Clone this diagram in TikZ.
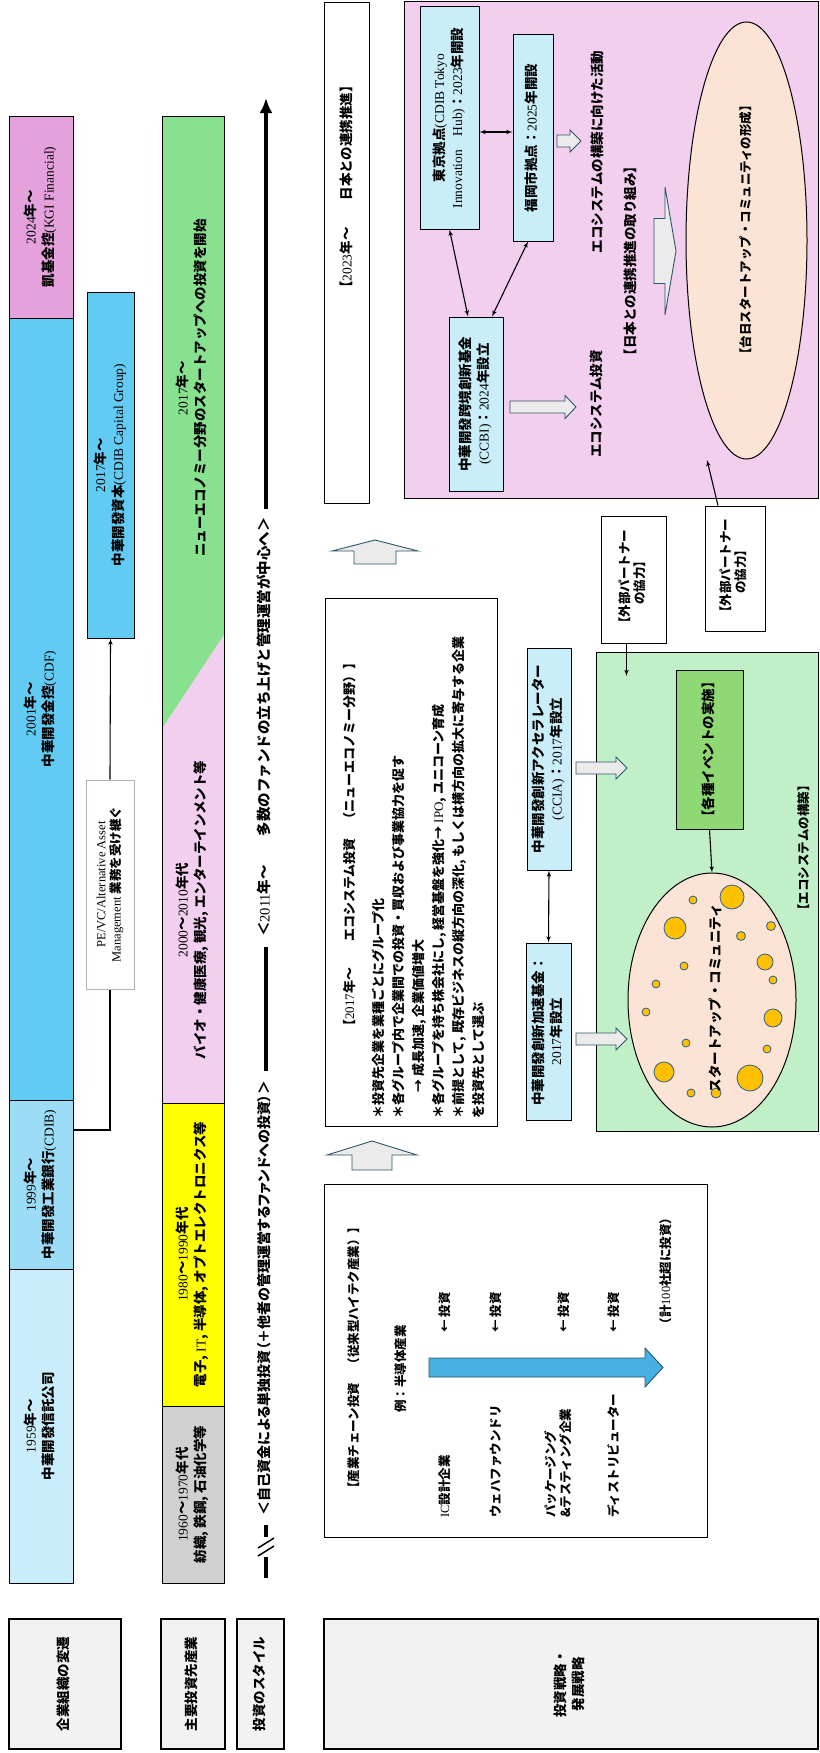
\documentclass[tikz,border=0pt]{standalone}
\usepackage{fontspec}
\usepackage{graphicx}
\setmainfont{Noto Sans CJK JP}
\newfontfamily\propjp{Noto Sans CJK JP}[RawFeature=+palt]
\newfontfamily\latfont{Liberation Serif}
\usetikzlibrary{arrows,arrows.meta,shapes.geometric}

\definecolor{kgipink}{HTML}{E4A1DC}
\definecolor{cdfblue}{HTML}{61CBF3}
\definecolor{cdibblue}{HTML}{9CDCF7}
\definecolor{trustblue}{HTML}{CAEDFB}
\definecolor{newgreen}{HTML}{88E18F}
\definecolor{biopink}{HTML}{F2CEEF}
\definecolor{elecyellow}{HTML}{FFFF00}
\definecolor{heavygray}{HTML}{D0D0D0}
\definecolor{labelgray}{HTML}{F2F2F2}
\definecolor{hubblue}{HTML}{C9EEFA}
\definecolor{peach}{HTML}{FBE3D6}
\definecolor{ecogreen}{HTML}{C1F0C8}
\definecolor{eventgreen}{HTML}{8ED973}
\definecolor{gold}{HTML}{FFC000}
\definecolor{goldedge}{HTML}{2F5F8A}
\definecolor{chainblue}{HTML}{45B0E1}
\definecolor{arrowfill}{HTML}{EBEBEB}
\definecolor{arrowedge}{HTML}{2E5668}

\newcommand\lt[1]{{\latfont\mdseries #1}}
\newcommand\vt[1]{\rotatebox{90}{\begin{tabular}{@{}c@{}}#1\end{tabular}}}
\newcommand\vtl[1]{\rotatebox{90}{\begin{tabular}{@{}l@{}}#1\end{tabular}}}
% right pointing block arrow: x start, x head, x tip, y, shaft half, head half
\newcommand\rightblock[7][]{%
  \draw[blockarrow,#1] (#2,#5-#6) -- (#3,#5-#6) -- (#3,#5-#7) -- (#4,#5)
    -- (#3,#5+#7) -- (#3,#5+#6) -- (#2,#5+#6) -- cycle;}
% upward block arrow: x, apex y, base y, foot y, shaft half, head half
\newcommand\upblock[6]{%
  \draw[blockarrow] (#1-#5,#4) -- (#1-#5,#3) -- (#1-#6,#3) -- (#1,#2)
    -- (#1+#6,#3) -- (#1+#5,#3) -- (#1+#5,#4) -- cycle;}

\begin{document}
\begin{tikzpicture}[x=1pt,y=-1pt,
  txt/.style={inner sep=0pt,font=\bfseries\fontsize{13.5}{18}\selectfont},
  small/.style={font=\bfseries\fontsize{12.5}{15}\selectfont},
  box/.style={txt,draw,line width=1pt},
  headbox/.style={box,fill=labelgray,line width=1.6pt,minimum height=130},
  blockarrow/.style={draw=arrowedge,fill=arrowfill,line width=0.9pt},
  styleline/.style={line width=3.5pt},
  link/.style={line width=1.1pt,>=latex'},
  bubble/.style={draw=goldedge,fill=gold,line width=0.8pt}]

\useasboundingbox (0,0) rectangle (819,1753);

% row labels
\node[headbox,minimum width=112] (orglabel) at (65,1684) {\vt{企業組織の変遷}};
\node[headbox,minimum width=64] (indlabel) at (193,1684) {\vt{主要投資先産業}};
\node[headbox,minimum width=47] (stylelabel) at (260.5,1684) {\vt{投資のスタイル}};
\node[headbox,minimum width=494] (stratlabel) at (571,1684) {\vt{投資戦略・\\発展戦略}};

% company organisation
\node[box,fill=kgipink,minimum width=64,minimum height=202] (kgi) at (41,217)
  {\vt{\lt{2024}年～\\凱基金控\lt{(KGI Financial)}}};
\node[box,fill=cdfblue,minimum width=64,minimum height=782] (cdf) at (41,709)
  {\vt{\lt{2001}年～\\中華開發金控\lt{(CDF)}}};
\node[box,fill=cdibblue,minimum width=64,minimum height=169] (cdib) at (41,1184.5)
  {\vt{\lt{1999}年～\\中華開發工業銀行\lt{(CDIB)}}};
\node[box,fill=trustblue,minimum width=64,minimum height=314] (trust) at (41,1426)
  {\vt{\lt{1959}年～\\中華開發信託公司}};
\node[box,fill=cdfblue,minimum width=47,minimum height=346] (capital) at (110.5,465)
  {\vt{\lt{2017}年～\\中華開發資本\lt{(CDIB Capital Group)}}};
\node[box,small,draw=gray!60,fill=white,minimum width=48,minimum height=209] (pevc) at (110,884.5)
  {\vt{\lt{PE/VC/Alternative Asset}\\\lt{Management} 業務を受け継ぐ}};
\draw[link] ([yshift=54.5pt]cdib.east) -| (pevc.south);
\draw[link,->] (pevc.north) -- (capital.south);

% industries
\fill[newgreen] (162,116) -- (224,116) -- (224,635) -- (162,729) -- cycle;
\fill[biopink] (162,729) -- (224,635) -- (224,1103) -- (162,1103) -- cycle;
\draw[line width=1pt] (162,116) rectangle (224,1103);
\node[txt] (neweco) at (193,388)
  {\vt{\lt{2017}年～\\ニューエコノミー分野のスタートアップへの投資を開始}};
\node[txt] (bio) at (193,910)
  {\vt{\lt{2000}～\lt{2010}年代\\バイオ・健康医療, 観光, エンターテインメント等}};
\node[box,fill=elecyellow,minimum width=62,minimum height=303] (elec) at (193,1254.5)
  {\vt{\lt{1980}～\lt{1990}年代\\電子, \lt{IT}, 半導体, オプトエレクトロニクス等}};
\node[box,fill=heavygray,minimum width=62,minimum height=177] (heavy) at (193,1494.5)
  {\vt{\lt{1960}～\lt{1970}年代\\紡織, 鉄鋼, 石油化学等}};

% investment style
\coordinate (styletop) at (266,98);
\coordinate (breakmark) at (266,1547);
\coordinate (stylefoot) at (266,1578);
\node[txt,font=\bfseries\fontsize{14.5}{18}\selectfont] (recent) at (266,727)
  {\vt{＜\lt{2011}年～　　多数のファンドの立ち上げと管理運営が中心へ＞}};
\node[txt,font=\propjp\bfseries\fontsize{14}{18}\selectfont] (early) at (266,1298)
  {\vt{＜自己資金による単独投資（＋他者の管理運営するファンドへの投資）＞}};
\draw[styleline,-{Latex[length=15pt,width=13pt]}] ([yshift=8pt]recent.north) -- (styletop);
\draw[styleline] ([yshift=-10pt]recent.south) -- ([yshift=10pt]early.north);
\draw[styleline] ([yshift=-10pt]early.south) -- ([yshift=10pt]breakmark);
\draw[styleline] ([yshift=-10pt]breakmark) -- (stylefoot);
\draw[line width=1.5pt] (breakmark) ++(-8,1) -- ++(16,-10)
                        (breakmark) ++(-8,9) -- ++(16,-10);

% strategy
\node[box,minimum width=45,minimum height=500] (japanbox) at (346.5,253) {};
\node[txt] (japantitle) at (348,187) {\vt{【\lt{2023}年～　　日本との連携推進】}};
\upblock{375}{540}{551}{564}{21}{43}

\node[box,minimum width=172,minimum height=528] (ecobox) at (411,862) {};
\node[txt,font=\bfseries\fontsize{13}{20}\selectfont,anchor=south west] (ecotext) at (340,1119)
  {\vtl{\hspace*{86pt}【\lt{2017}年～　　エコシステム投資　（ニューエコノミー分野）】\\[9pt]
   ＊投資先企業を業種ごとにグループ化\\
   ＊各グループ内で企業間での投資・買収および事業協力を促す\\
   \hspace*{26pt}→ 成長加速, 企業価値増大\\
   ＊各グループを持ち株会社にし, 経営基盤を強化→ \lt{IPO}, ユニコーン育成\\
   ＊前提として, 既存ビジネスの縦方向の深化, もしくは横方向の拡大に寄与する企業\\
   を投資先として選ぶ}};
\upblock{372}{1141}{1155}{1170}{20}{45}

\node[box,minimum width=383,minimum height=353] (chainbox) at (515.5,1360.5) {};
\node[txt,small,anchor=south] (chaintitle) at (355,1495) {\vt{【産業チェーン投資　（従来型ハイテク産業）】}};
\node[txt,small,anchor=south] (example) at (402,1413) {\vt{例：半導体産業}};
\node[txt,small,anchor=south] (icdesign) at (446,1518) {\vt{\lt{IC}設計企業}};
\node[txt,small,anchor=south] (foundry) at (497,1518) {\vt{ウェハファウンドリ}};
\node[txt,small,anchor=south] (packaging) at (559.5,1518) {\vtl{パッケージング\\\&テスティング企業}};
\node[txt,small,anchor=south] (distributor) at (615,1518) {\vt{ディストリビューター}};
\foreach \x in {446,497,565,615}
  \node[txt,small,anchor=south] (invest\x) at (\x,1333) {\vt{← 投資}};
\rightblock[fill=chainblue]{429}{645}{663}{1367.5}{9.5}{19.5}
\node[txt,small] (total) at (667,1271) {\vt{（計\lt{100}社超に投資）}};

% japan side
\node[draw,fill=biopink,line width=1pt,minimum width=414,minimum height=496] (japanzone) at (611,250) {};
\node[box,fill=hubblue,minimum width=59,minimum height=222] (tokyo) at (449.5,118)
  {\vt{東京拠点\lt{(CDIB Tokyo}\\\lt{Innovation\quad Hub)}：\lt{2023}年開設}};
\node[box,fill=hubblue,minimum width=40,minimum height=206] (fukuoka) at (533,138)
  {\vt{福岡市拠点：\lt{2025}年開設}};
\node[box,fill=hubblue,minimum width=54,minimum height=174] (ccbi) at (476,404)
  {\vt{中華開發跨境創新基金\\\lt{(CCBI)}：\lt{2024}年設立}};
\draw[link,<->] ([yshift=-14pt]tokyo.east) -- ([yshift=6pt]fukuoka.west);
\draw[link,<->] (tokyo.south) -- ([xshift=-8pt]ccbi.north);
\draw[link,<->] ([xshift=-5pt]fukuoka.south) -- ([xshift=16pt]ccbi.north);
\rightblock{510}{565}{576}{407}{6}{11.5}
\rightblock{557}{570}{581}{141}{6}{11}
\node[txt] (ecoinvest) at (598,404) {\vt{エコシステム投資}};
\node[txt] (ecobuild) at (599,152) {\vt{エコシステムの構築に向けた活動}};
\node[txt] (linkage) at (632,261) {\vt{【日本との連携推進の取り組み】}};
\rightblock{654}{665}{676}{251}{32.5}{64}
\node[draw,ellipse,fill=peach,line width=1pt,minimum width=121,minimum height=437,inner sep=0pt] (ring) at (746.5,240.5) {};
\node[txt,small] (ringtext) at (747,230) {\vt{【台日スタートアップ・コミュニティの形成】}};

% partners
\node[box,small,fill=white,minimum width=65,minimum height=127] (ext1) at (633.5,579.5) {\vt{【外部パートナー\\の協力】}};
\node[box,small,fill=white,minimum width=60,minimum height=125] (ext2) at (735,568.5) {\vt{【外部パートナー\\の協力】}};
\coordinate (japanentry) at (707,460);
\draw[link,->] ([xshift=-17pt]ext2.north) -- (japanentry);

% ecosystem in taiwan
\node[draw,fill=ecogreen,line width=1pt,minimum width=222,minimum height=479] (ecozone) at (707,891.5) {};
\coordinate (ecoentry) at (626.5,676);
\draw[link,->] ([xshift=-7pt]ext1.south) -- (ecoentry);
\node[box,fill=eventgreen,minimum width=67,minimum height=159] (events) at (709.5,749.5) {\vt{【各種イベントの実施】}};
\node[draw,ellipse,fill=peach,line width=1pt,minimum width=168,minimum height=254,inner sep=0pt] (community) at (712,1000) {};
\foreach \bx/\by/\br in {732/897/12,693/900/4,675/928/11,741/936/4.5,771/926/4.5,
    684/966/4,765/962/8,656/984/4,773/980/4,646/1012/4,773/1018/9,686/1043/4,
    767/1049/4,664/1072/10,750/1078/13,691/1093/4,716/1093/5}
  \draw[bubble] (\bx,\by) circle[radius=\br pt];
\node[txt] (communitytext) at (717,998) {\vt{スタートアップ・コミュニティ}};
\node[txt,small] (ecozonetitle) at (805,848) {\vt{【エコシステムの構築】}};
\draw[link,->] (events.south) -- (community.north);

\node[box,fill=hubblue,minimum width=44,minimum height=222] (ccia) at (549,759)
  {\vt{中華開發創新アクセラレーター\\\lt{(CCIA)}：\lt{2017}年設立}};
\node[box,fill=hubblue,minimum width=45,minimum height=177] (fund) at (548.5,1031.5)
  {\vt{中華開發創新加速基金：\\\lt{2017}年設立}};
\draw[link,<->] (ccia.south) -- (fund.north);
\rightblock{576}{616}{627}{768}{6}{11}
\rightblock{576}{616}{627}{1039}{6}{11}
\end{tikzpicture}
\end{document}
